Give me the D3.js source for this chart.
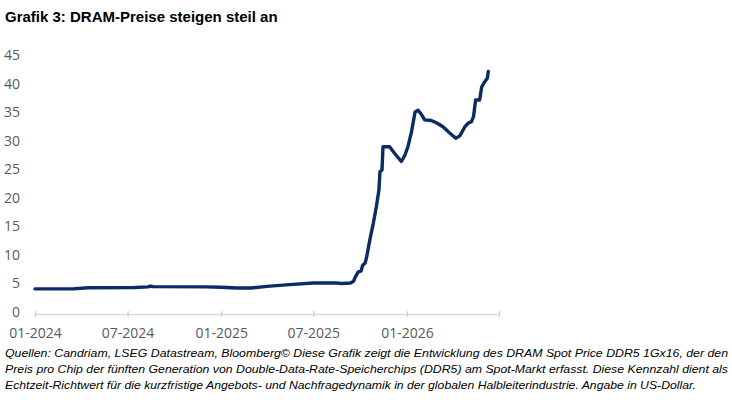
<!DOCTYPE html>
<html>
<head>
<meta charset="utf-8">
<script src="https://cdn.jsdelivr.net/npm/d3@7"></script>
<style>
  body { margin: 0; background: #fff; }
  svg { display: block; }
</style>
</head>
<body>
<div id="chart"></div>
<script>
// DRAM Spot Price DDR5 1Gx16 (US-Dollar)
const dates = [
    "2024-01-01", "2024-03-15", "2024-04-15", "2024-07-15", "2024-08-10", "2024-08-15",
    "2024-08-20", "2024-12-01", "2025-01-01", "2025-02-01", "2025-03-01", "2025-04-01",
    "2025-05-15", "2025-07-01", "2025-08-15", "2025-08-25", "2025-09-12", "2025-09-18",
    "2025-09-22", "2025-09-27", "2025-10-03", "2025-10-06", "2025-10-11", "2025-10-14",
    "2025-10-20", "2025-10-27", "2025-11-02", "2025-11-07", "2025-11-09", "2025-11-13",
    "2025-11-15", "2025-11-28", "2025-12-08", "2025-12-21", "2025-12-28", "2026-01-03",
    "2026-01-10", "2026-01-17", "2026-01-23", "2026-01-30", "2026-02-05", "2026-02-18",
    "2026-02-28", "2026-03-13", "2026-03-26", "2026-04-07", "2026-04-15", "2026-04-25",
    "2026-05-01", "2026-05-08", "2026-05-12", "2026-05-16", "2026-05-24", "2026-05-28",
    "2026-06-03", "2026-06-08", "2026-06-10"
];
const prices = [
    4.05, 4.05, 4.25, 4.3, 4.4, 4.55,
    4.45, 4.4, 4.35, 4.2, 4.2, 4.5,
    4.8, 5.1, 5.1, 5.0, 5.1, 5.4,
    6.2, 7.0, 7.2, 8.2, 8.6, 9.7,
    12.6, 15.6, 18.5, 21.4, 24.6, 24.9,
    29.0, 29.0, 27.8, 26.4, 27.5, 29.0,
    31.6, 35.1, 35.4, 34.6, 33.7, 33.6,
    33.2, 32.5, 31.4, 30.5, 30.9, 32.5,
    33.1, 33.4, 34.3, 37.2, 37.2, 39.5,
    40.4, 41.0, 42.2
];
const yTicks = [0, 5, 10, 15, 20, 25, 30, 35, 40, 45];
const xTicks = ["2024-01-01", "2024-07-01", "2025-01-01", "2025-07-01", "2026-01-01", "2026-07-01"];
const xLabels = ["01-2024", "07-2024", "01-2025", "07-2025", "01-2026", ""];

const title = "Grafik 3: DRAM-Preise steigen steil an";
const note = [
    "Quellen: Candriam, LSEG Datastream, Bloomberg© Diese Grafik zeigt die Entwicklung des DRAM Spot Price DDR5 1Gx16, der den",
    "Preis pro Chip der fünften Generation von Double-Data-Rate-Speicherchips (DDR5) am Spot-Markt erfasst. Diese Kennzahl dient als",
    "Echtzeit-Richtwert für die kurzfristige Angebots- und Nachfragedynamik in der globalen Halbleiterindustrie. Angabe in US-Dollar."
];
const noteWidths = [723, 723, 691];

const parse = d3.timeParse("%Y-%m-%d");
const data = dates.map((d, i) => ({ date: parse(d), value: prices[i] }));

const svg = d3.select("#chart").append("svg")
    .attr("width", 732)
    .attr("height", 400);

const margin = { top: 55.5, left: 35, right: 233, bottom: 88 };
const width = 732 - margin.left - margin.right;
const height = 400 - margin.top - margin.bottom;

const x = d3.scaleTime()
    .domain([parse(xTicks[0]), parse(xTicks[xTicks.length - 1])])
    .range([0, width]);
const y = d3.scaleLinear().domain([0, 45]).range([height, 0]);

// Title
svg.append("text")
    .attr("x", 5)
    .attr("y", 22)
    .attr("font-family", "Liberation Sans, Arial, sans-serif")
    .attr("font-weight", "bold")
    .attr("font-size", "15px")
    .attr("fill", "#000")
    .text(title);

const chart = svg.append("g")
    .attr("transform", `translate(${margin.left}, ${margin.top})`);

// x axis
const xAxis = chart.append("g")
    .attr("transform", `translate(0, ${height + 2})`)
    .call(d3.axisBottom(x)
        .tickValues(xTicks.map(parse))
        .tickFormat((d, i) => xLabels[i])
        .tickSize(3)
        .tickPadding(11));
xAxis.select(".domain").attr("stroke", "#d9d9d9").attr("stroke-width", 1.3);
xAxis.selectAll(".tick line")
    .attr("y1", -3)
    .attr("stroke", "#d0d0d0")
    .attr("stroke-width", 1.3);
xAxis.selectAll(".tick text")
    .attr("fill", "#595959")
    .attr("font-family", "Open Sans, sans-serif")
    .attr("font-size", "14px");

// y axis (labels only)
const yAxis = chart.append("g")
    .call(d3.axisLeft(y).tickValues(yTicks).tickSize(0).tickPadding(15));
yAxis.select(".domain").remove();
yAxis.selectAll(".tick text")
    .attr("fill", "#595959")
    .attr("font-family", "Open Sans, sans-serif")
    .attr("font-size", "14px");

// Price line
const line = d3.line()
    .x(d => x(d.date))
    .y(d => y(d.value));

chart.append("path")
    .datum(data)
    .attr("d", line)
    .attr("fill", "none")
    .attr("stroke", "#0b2b62")
    .attr("stroke-width", 3.4)
    .attr("stroke-linejoin", "round")
    .attr("stroke-linecap", "round");

// Footnote
svg.append("g")
    .selectAll("text")
    .data(note)
    .enter()
    .append("text")
    .attr("x", 5)
    .attr("y", (d, i) => 357 + i * 16)
    .attr("font-family", "Liberation Sans, Arial, sans-serif")
    .attr("font-style", "italic")
    .attr("font-size", "11.8px")
    .attr("textLength", (d, i) => noteWidths[i])
    .attr("lengthAdjust", "spacingAndGlyphs")
    .attr("fill", "#000")
    .text(d => d);
</script>
</body>
</html>
